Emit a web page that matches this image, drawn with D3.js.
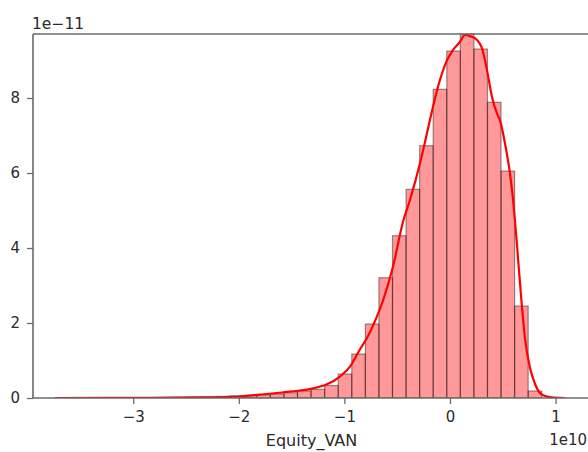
<!DOCTYPE html>
<html>
<head>
<meta charset="utf-8">
<script src="https://cdn.jsdelivr.net/npm/d3@7"></script>
<style>
  html, body { margin: 0; padding: 0; background: #fff; }
  svg { display: block; }
  text { font-family: "DejaVu Sans", sans-serif; }
</style>
</head>
<body>
<svg id="chart" width="588" height="452"></svg>
<script>
// ---- data (x in units of 1e10, density in units of 1e-11) ----
const binEdges = [-3.5, -3.3715, -3.243, -3.1145, -2.986, -2.8575, -2.729, -2.6005, -2.472, -2.3435,
  -2.215, -2.0865, -1.958, -1.8295, -1.701, -1.5725, -1.444, -1.3155, -1.187, -1.0585,
  -0.93, -0.8015, -0.673, -0.5445, -0.416, -0.2875, -0.159, -0.0305, 0.098, 0.2265,
  0.355, 0.4835, 0.612, 0.7405, 0.869];
const binDensity = [0.004, 0.003, 0.005, 0.006, 0.008, 0.010, 0.013, 0.018, 0.024, 0.032,
  0.042, 0.055, 0.070, 0.085, 0.107, 0.141, 0.187, 0.232, 0.333, 0.640,
  1.173, 1.973, 3.208, 4.328, 5.565, 6.728, 8.232, 9.253, 9.707, 9.307,
  7.885, 6.053, 2.453, 0.187];
const kdeX = [-3.741, -3.314, -2.841, -2.367, -2.017, -1.799, -1.610, -1.487, -1.420, -1.297,
  -1.165, -1.042, -0.947, -0.852, -0.786, -0.710, -0.634, -0.540, -0.445, -0.379,
  -0.284, -0.218, -0.161, -0.095, -0.028, 0.028, 0.095, 0.142, 0.189, 0.256,
  0.303, 0.350, 0.398, 0.445, 0.473, 0.521, 0.568, 0.597, 0.634, 0.672,
  0.710, 0.758, 0.805, 0.852, 0.919, 0.994, 1.089];
const kdeY = [0.0, 0.002, 0.005, 0.015, 0.04, 0.09, 0.14, 0.18, 0.2, 0.258,
  0.365, 0.57, 0.835, 1.3, 1.6, 2.05, 2.6, 3.5, 4.7, 5.28,
  6.26, 7.06, 7.77, 8.48, 9.01, 9.28, 9.50, 9.68, 9.65, 9.55,
  9.33, 8.75, 8.03, 7.59, 7.41, 6.79, 5.99, 5.3, 4.1, 2.75,
  1.6, 0.8, 0.38, 0.13, 0.035, 0.01, 0.0];
const xTicks = [-3, -2, -1, 0, 1];
const yTicks = [0, 2, 4, 6, 8];
const xLabel = "Equity_VAN";
const xOffsetText = "1e10";
const yOffsetText = "1e\u221211";

// ---- layout ----
const mLeft = 33, mRight = 590, mTop = 34, mBottom = 398;
const svg = d3.select("#chart");

const x = d3.scaleLinear().domain([-3.949, 1.326]).range([mLeft, mRight]);
const y = d3.scaleLinear().domain([0, 9.707]).range([mBottom, mTop]);

svg.append("defs").append("clipPath").attr("id", "clip")
  .append("rect").attr("x", mLeft).attr("y", mTop - 1).attr("width", mRight - mLeft).attr("height", mBottom - mTop + 1);

const plot = svg.append("g").attr("clip-path", "url(#clip)");

const bins = binDensity.map((d, i) => ({ x0: binEdges[i], x1: binEdges[i + 1], v: d }));
plot.selectAll("rect.bar").data(bins).join("rect")
  .attr("class", "bar")
  .attr("x", d => x(d.x0))
  .attr("width", d => x(d.x1) - x(d.x0))
  .attr("y", d => y(d.v))
  .attr("height", d => y(0) - y(d.v))
  .attr("fill", "red").attr("fill-opacity", 0.4)
  .attr("stroke", "black").attr("stroke-opacity", 0.4).attr("stroke-width", 1.2);

const line = d3.line().x(d => x(d[0])).y(d => y(d[1])).curve(d3.curveMonotoneX);
plot.append("path")
  .datum(kdeX.map((v, i) => [v, kdeY[i]]))
  .attr("d", line)
  .attr("fill", "none").attr("stroke", "red").attr("stroke-width", 2.2);

// ---- axes ----
const spineColor = "#6a6a6a";
const xAxis = svg.append("g").attr("transform", `translate(0,${mBottom})`)
  .call(d3.axisBottom(x).tickValues(xTicks).tickSize(6).tickPadding(7)
    .tickFormat(d => d < 0 ? "\u2212" + Math.abs(d) : String(d)));
const yAxis = svg.append("g").attr("transform", `translate(${mLeft},0)`)
  .call(d3.axisLeft(y).tickValues(yTicks).tickSize(6).tickPadding(7)
    .tickFormat(d => String(d)));
[xAxis, yAxis].forEach(g => {
  g.select(".domain").remove();
  g.selectAll(".tick line").attr("stroke", spineColor).attr("stroke-width", 1.3);
  g.selectAll(".tick text").attr("fill", "#2a2a2a").style("font-size", "15px")
    .style("font-family", "'DejaVu Sans', sans-serif");
});

// spines
const sp = svg.append("g").attr("stroke", spineColor).attr("stroke-width", 1.6).attr("fill", "none");
sp.append("line").attr("x1", mLeft).attr("x2", mLeft).attr("y1", mTop).attr("y2", mBottom);
sp.append("line").attr("x1", mLeft).attr("x2", mRight).attr("y1", mBottom).attr("y2", mBottom);
sp.append("line").attr("x1", mLeft).attr("x2", mRight).attr("y1", mTop).attr("y2", mTop);
sp.append("line").attr("x1", mRight).attr("x2", mRight).attr("y1", mTop).attr("y2", mBottom);

// labels
svg.append("text").attr("x", (mLeft + mRight) / 2).attr("y", 446)
  .attr("text-anchor", "middle").attr("fill", "#2a2a2a").style("font-size", "16px")
  .text(xLabel);
svg.append("text").attr("x", 587).attr("y", 445)
  .attr("text-anchor", "end").attr("fill", "#2a2a2a").style("font-size", "15px")
  .text(xOffsetText);
svg.append("text").attr("x", 32).attr("y", 29)
  .attr("text-anchor", "start").attr("fill", "#2a2a2a").style("font-size", "15.5px")
  .text(yOffsetText);
</script>
</body>
</html>
